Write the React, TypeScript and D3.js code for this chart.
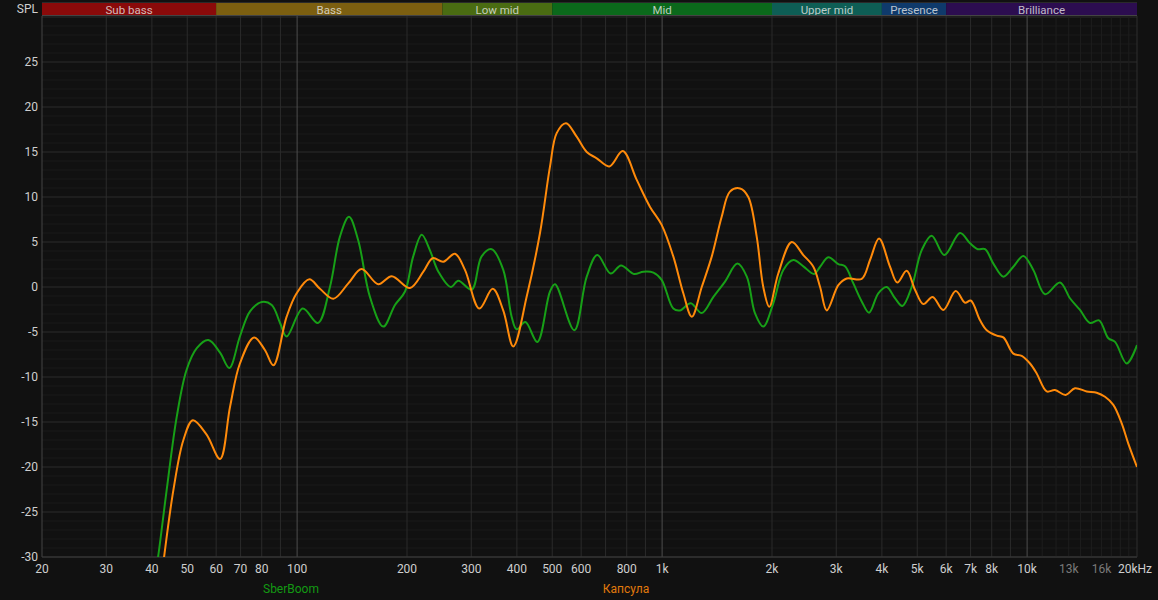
import React from "react";
import * as d3 from "d3";

// ---- data ----
const bandNames = ["Sub bass", "Bass", "Low mid", "Mid", "Upper mid", "Presence", "Brilliance"];
const bandEdges = [20, 60, 250, 500, 2000, 4000, 6000, 20000];
const bandColors = ["#8a0a0a", "#7c5f10", "#4a6c12", "#0b691b", "#0e5e55", "#0f3a6b", "#2c0d50"];

const yTicks = [25, 20, 15, 10, 5, 0, -5, -10, -15, -20, -25, -30];
const xTickFreqs = [20, 30, 40, 50, 60, 70, 80, 100, 200, 300, 400, 500, 600, 800, 1000, 2000, 3000, 4000, 5000, 6000, 7000, 8000, 10000, 13000, 16000, 20000];
const xTickLabels = ["20", "30", "40", "50", "60", "70", "80", "100", "200", "300", "400", "500", "600", "800", "1k", "2k", "3k", "4k", "5k", "6k", "7k", "8k", "10k", "13k", "16k", "20kHz"];
const dimLabels = ["13k", "16k"];

const seriesNames = ["SberBoom", "Капсула"];

const sberFreq = [40.5, 41.6, 43.9, 46.8, 49.8, 53.1, 57.1, 61.5, 65.2, 69.7, 74.3, 80, 85.2, 89.8, 93.6, 103.6, 114, 123, 131, 138.7, 147, 158.3, 172.2, 185.4, 197.5, 208, 219.5, 231, 243.8, 263.6, 276.5, 300.8, 320.2, 341.2, 367.1, 387, 399.5, 421.9, 455, 493, 508.8, 574.6, 621.5, 664.4, 722.8, 771.5, 837.4, 888.3, 946.6, 997, 1073, 1119, 1198, 1284, 1382, 1487, 1607, 1706, 1796, 1893, 2017, 2148, 2288, 2437, 2607, 2709, 2853, 3039, 3170, 3341, 3522, 3689, 3911, 4123, 4346, 4551, 4828, 5143, 5477, 5932, 6548, 6975, 7322, 7669, 8082, 8608, 9167, 9763, 10398, 11195, 12303, 13104, 13958, 14866, 15740, 16695, 17413, 18742, 20000];
const sberDb = [-33, -30, -22.6, -14.4, -9.2, -6.8, -5.9, -7.3, -9.0, -5.5, -2.7, -1.67, -2.0, -4.0, -5.5, -2.4, -4.0, 0, 5.6, 7.8, 5.2, -1.1, -4.4, -2.0, -0.5, 3.4, 5.8, 4.1, 1.7, 0, 0.7, -0.3, 3.4, 4.2, 1.9, -3.3, -4.7, -3.9, -6.1, -0.5, 0.3, -4.8, 1.15, 3.55, 1.5, 2.4, 1.45, 1.7, 1.6, 0.8, -2.4, -2.6, -1.8, -2.9, -1.1, 0.6, 2.6, 1.15, -2.9, -4.4, -1.8, 1.9, 3.0, 2.3, 1.45, 2.25, 3.3, 2.55, 2.3, 0.4, -1.6, -2.85, -0.7, 0, -1.25, -2.1, 0, 4.1, 5.7, 3.55, 6.0, 4.85, 4.2, 4.2, 2.6, 1.15, 2.25, 3.45, 1.9, -0.8, 0.5, -1.25, -2.55, -4.0, -3.7, -5.7, -6.1, -8.5, -6.45];

const kapsFreq = [42.3, 43.2, 45.8, 48.8, 51.8, 56.5, 61.5, 65.5, 69.7, 76.2, 81.6, 86.1, 93.6, 99.7, 108, 115.5, 125.7, 138.1, 150.2, 166.8, 181.6, 203.8, 221.7, 235.2, 251.5, 270.7, 288.3, 315.6, 343.4, 367, 391, 426.5, 462.8, 493, 514.2, 545.3, 583.3, 621.5, 662, 716.6, 780, 852, 926.6, 997, 1073, 1143, 1206, 1284, 1368, 1456, 1534, 1635, 1722, 1816, 1893, 1966, 2081, 2265, 2437, 2596, 2709, 2825, 3039, 3204, 3522, 3712, 3929, 4211, 4409, 4677, 4930, 5195, 5510, 5893, 6373, 6759, 7006, 7431, 7750, 8255, 8608, 9167, 9664, 10183, 10622, 11314, 11921, 12751, 13522, 14560, 15509, 16344, 17224, 18160, 18933, 20000];
const kapsDb = [-33, -30, -22.6, -17, -14.8, -16.4, -19.1, -13.3, -8.5, -5.6, -7.0, -8.7, -3.3, -0.7, 0.85, -0.2, -1.3, 0.4, 2.0, 0.3, 1.2, -0.1, 1.7, 3.2, 2.8, 3.7, 1.9, -2.4, -0.2, -2.6, -6.6, -0.9, 6.0, 13.4, 17.1, 18.2, 16.7, 15.0, 14.3, 13.4, 15.1, 11.9, 8.9, 6.9, 3.4, -0.7, -3.3, 0, 3.4, 7.8, 10.6, 10.95, 10.0, 5.6, 0, -2.2, 1.5, 5.0, 3.55, 2.25, 0, -2.6, 0.2, 0.95, 0.9, 3.0, 5.4, 2.25, 0.5, 1.8, -0.3, -1.9, -1.1, -2.55, -0.45, -1.75, -1.5, -3.7, -4.8, -5.4, -5.6, -7.4, -7.65, -8.5, -9.6, -11.6, -11.45, -12.0, -11.25, -11.6, -11.75, -12.2, -13.1, -15.15, -17.4, -20.0];

const seriesColors = ["#17a017", "#ff8a0a"];
const legendColors = ["#139a13", "#e27a0c"];

// ---- layout ----
const W = 1158;
const H = 600;
const left = 42;
const right = 1137;
const top = 16;
const bottom = 557;

export default function App() {
  const x = d3.scaleLog().domain([20, 20000]).range([left, right]);
  const y = d3.scaleLinear().domain([-30, 30]).range([bottom, 17]);

  const line = d3
    .line<[number, number]>()
    .x((d) => x(d[0]))
    .y((d) => y(d[1]))
    .curve(d3.curveCatmullRom.alpha(0.5));

  const sber: [number, number][] = sberFreq.map((f, i) => [f, sberDb[i]]);
  const kaps: [number, number][] = kapsFreq.map((f, i) => [f, kapsDb[i]]);

  const minorDb = d3.range(-30, 31, 1).filter((v) => v % 5 !== 0);
  const majorDb = d3.range(-30, 31, 5);

  const decadeLines: number[] = [];
  const faintLines: number[] = [];
  [10, 100, 1000].forEach((dec) => {
    for (let k = 2; k <= 9; k++) {
      const f = k * dec;
      if (f > 20 && f !== 100 && f !== 1000 && f !== 10000) decadeLines.push(f);
    }
  });
  for (let k = 11; k <= 19; k++) faintLines.push(k * 1000);
  const strongLines = [100, 1000, 10000];

  const font = "Roboto, 'Liberation Sans', Arial, sans-serif";

  return (
    <div style={{ position: "fixed", left: 0, top: 0, width: W, height: H, background: "#111111" }}>
      <svg width={W} height={H} style={{ display: "block" }}>
        <defs>
          <clipPath id="plotClip">
            <rect x={left} y={top} width={right - left} height={bottom - top} />
          </clipPath>
        </defs>
        <rect x={0} y={0} width={W} height={H} fill="#111111" />

        {/* minor horizontal grid */}
        {minorDb.map((v) => (
          <line key={"mh" + v} x1={left} x2={right} y1={y(v)} y2={y(v)} stroke="#1a1a1a" strokeWidth={1} />
        ))}
        {majorDb.map((v) => (
          <line key={"Mh" + v} x1={left} x2={right} y1={y(v)} y2={y(v)} stroke="#2c2c2c" strokeWidth={1} />
        ))}
        {faintLines.map((f) => (
          <line key={"fv" + f} x1={x(f)} x2={x(f)} y1={top} y2={bottom} stroke="#1e1e1e" strokeWidth={1} />
        ))}
        {decadeLines.map((f) => (
          <line key={"dv" + f} x1={x(f)} x2={x(f)} y1={top} y2={bottom} stroke="#2b2b2b" strokeWidth={1} />
        ))}
        {strongLines.map((f) => (
          <line key={"sv" + f} x1={x(f)} x2={x(f)} y1={top} y2={bottom} stroke="#4e4e4e" strokeWidth={1} />
        ))}

        {/* frame */}
        <line x1={left} x2={left} y1={top} y2={bottom} stroke="#444" strokeWidth={1} />
        <line x1={left} x2={right} y1={bottom} y2={bottom} stroke="#3a3a3a" strokeWidth={1} />
        <line x1={right} x2={right} y1={top} y2={bottom} stroke="#2e2e2e" strokeWidth={1} />

        {/* bands */}
        {bandNames.map((name, i) => {
          const x0 = x(bandEdges[i]);
          const x1 = x(bandEdges[i + 1]);
          return (
            <g key={name}>
              <rect x={x0} y={3} width={x1 - x0} height={12} fill={bandColors[i]} />
              <text
                x={(x0 + x1) / 2}
                y={13.5}
                textAnchor="middle"
                fontSize={11.5}
                fontFamily={font}
                fill="rgba(235,235,235,0.78)"
              >
                {name}
              </text>
            </g>
          );
        })}
        <line x1={left} x2={right} y1={2.5} y2={2.5} stroke="#2a2a2a" strokeWidth={1} />
        <line x1={left} x2={right} y1={15.5} y2={15.5} stroke="#444" strokeWidth={1} />

        {/* SPL label */}
        <text x={38} y={13} textAnchor="end" fontSize={12} fontFamily={font} fill="#cfcfcf">
          SPL
        </text>

        {/* y ticks */}
        {yTicks.map((v) => (
          <text
            key={"yt" + v}
            x={38}
            y={y(v) + 4}
            textAnchor="end"
            fontSize={12}
            fontFamily={font}
            fill="#cfcfcf"
          >
            {v}
          </text>
        ))}

        {/* x ticks */}
        {xTickFreqs.map((f, i) => {
          const label = xTickLabels[i];
          const isLast = i === xTickFreqs.length - 1;
          return (
            <text
              key={"xt" + f}
              x={isLast ? x(f) - 2 : x(f)}
              y={573}
              textAnchor="middle"
              fontSize={12}
              fontFamily={font}
              fill={dimLabels.includes(label) ? "#7a7a7a" : "#cfcfcf"}
            >
              {label}
            </text>
          );
        })}

        {/* curves */}
        <g clipPath="url(#plotClip)">
          <path d={line(sber) || ""} fill="none" stroke={seriesColors[0]} strokeWidth={2} />
          <path d={line(kaps) || ""} fill="none" stroke={seriesColors[1]} strokeWidth={2} />
        </g>

        {/* legend */}
        <text x={291} y={593} textAnchor="middle" fontSize={12} fontFamily={font} fill={legendColors[0]}>
          {seriesNames[0]}
        </text>
        <text x={626} y={593} textAnchor="middle" fontSize={12} fontFamily={font} fill={legendColors[1]}>
          {seriesNames[1]}
        </text>
      </svg>
    </div>
  );
}
